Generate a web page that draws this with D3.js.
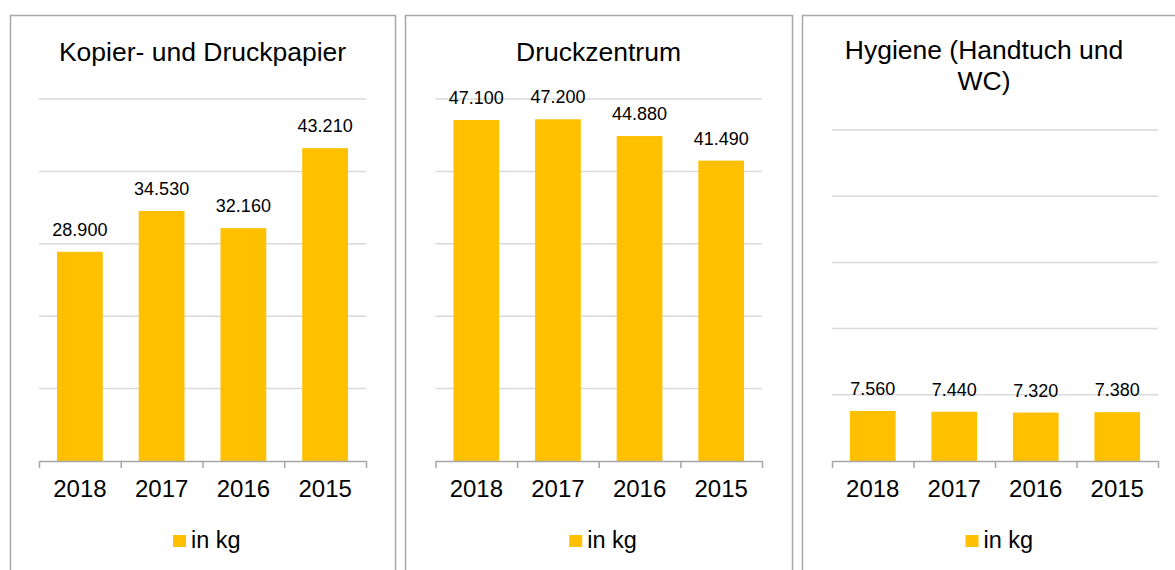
<!DOCTYPE html>
<html>
<head>
<meta charset="utf-8">
<script src="https://cdn.jsdelivr.net/npm/d3@7"></script>
<style>
  body { margin: 0; background: #fff; }
  svg { display: block; font-family: Arial, "Liberation Sans", sans-serif; }
</style>
</head>
<body>
<div id="chart"></div>
<script>
// data
var years = ["2018", "2017", "2016", "2015"];
var kopierValues = [28900, 34530, 32160, 43210];
var druckValues = [47100, 47200, 44880, 41490];
var hygieneValues = [7560, 7440, 7320, 7380];
var yTicks = [0, 10000, 20000, 30000, 40000, 50000];
var seriesName = "in kg";

var barColor = "#FFC000";
var fmt = function(v) { return d3.format(",.0f")(v).replace(/,/g, "."); };

var svg = d3.select("#chart").append("svg")
    .attr("width", 1175)
    .attr("height", 570);

// one panel = one little excel chart
function drawPanel(p) {
  var g = svg.append("g");

  // panel border
  g.append("rect")
      .attr("x", p.left + 0.5)
      .attr("y", 15.5)
      .attr("width", p.width)
      .attr("height", 600)
      .attr("fill", "#fff")
      .attr("stroke", "#a6a6a6")
      .attr("stroke-width", 1.5);

  var x = d3.scaleBand()
      .domain(years)
      .range([p.plotLeft, p.plotRight])
      .paddingInner(0.44)
      .paddingOuter(0.22);

  var y = d3.scaleLinear()
      .domain([0, 50000])
      .range([461, p.plotTop]);

  // gridlines
  g.append("g")
      .selectAll("line")
      .data(yTicks.slice(1))
      .enter().append("line")
      .attr("x1", p.plotLeft)
      .attr("x2", p.plotRight)
      .attr("y1", function(d) { return y(d); })
      .attr("y2", function(d) { return y(d); })
      .style("stroke", "#d9d9d9")
      .style("stroke-width", 1.5);

  // bars
  g.selectAll(".bar")
      .data(p.values)
      .enter().append("rect")
      .attr("class", "bar")
      .attr("x", function(d, i) { return x(years[i]); })
      .attr("width", x.bandwidth())
      .attr("y", function(d) { return y(d); })
      .attr("height", function(d) { return 461 - y(d); })
      .style("fill", barColor);

  // value labels
  g.selectAll(".lbl")
      .data(p.values)
      .enter().append("text")
      .attr("class", "lbl")
      .attr("x", function(d, i) { return x(years[i]) + x.bandwidth() / 2; })
      .attr("y", function(d) { return y(d) - 16; })
      .attr("text-anchor", "middle")
      .style("font-size", "18px")
      .style("fill", "#000")
      .text(function(d) { return fmt(d); });

  // category axis: boundary ticks
  var edges = d3.scaleLinear().domain([0, years.length]).range([p.plotLeft, p.plotRight]);
  var tickAxis = g.append("g")
      .attr("transform", "translate(0,461)")
      .call(d3.axisBottom(edges).tickValues(d3.range(years.length + 1)).tickSize(7).tickSizeOuter(0).tickFormat(""));
  tickAxis.selectAll("path, line").style("stroke", "#a6a6a6").style("stroke-width", 1.5);

  // category labels
  var labelAxis = g.append("g")
      .attr("transform", "translate(0,461)")
      .call(d3.axisBottom(x).tickSize(0).tickPadding(19));
  labelAxis.select(".domain").remove();
  labelAxis.selectAll("text")
      .style("font-size", "24px")
      .style("font-family", "Arial, 'Liberation Sans', sans-serif")
      .style("fill", "#000");

  // title (one text per line)
  var lineGap = 31;
  var firstY = p.title.length > 1 ? 59 : 61;
  p.title.forEach(function(line, i) {
    g.append("text")
        .attr("x", p.titleX)
        .attr("y", firstY + i * lineGap)
        .attr("text-anchor", "middle")
        .style("font-size", "26.5px")
        .style("fill", "#000")
        .text(line);
  });

  // legend
  var cx = (p.plotLeft + p.plotRight) / 2;
  g.append("rect")
      .attr("x", cx - 29.5)
      .attr("y", 535)
      .attr("width", 13)
      .attr("height", 12)
      .style("fill", barColor);
  g.append("text")
      .attr("x", cx - 11.5)
      .attr("y", 548)
      .style("font-size", "23.5px")
      .style("fill", "#000")
      .text(seriesName);
}

drawPanel({ left: 10, width: 385, plotLeft: 39, plotRight: 366, plotTop: 99,
            titleX: 202.5, title: ["Kopier- und Druckpapier"], values: kopierValues });
drawPanel({ left: 405, width: 387, plotLeft: 435.5, plotRight: 762, plotTop: 99,
            titleX: 598.5, title: ["Druckzentrum"], values: druckValues });
drawPanel({ left: 802, width: 387, plotLeft: 832, plotRight: 1158, plotTop: 130,
            titleX: 984, title: ["Hygiene (Handtuch und", "WC)"], values: hygieneValues });
</script>
</body>
</html>
